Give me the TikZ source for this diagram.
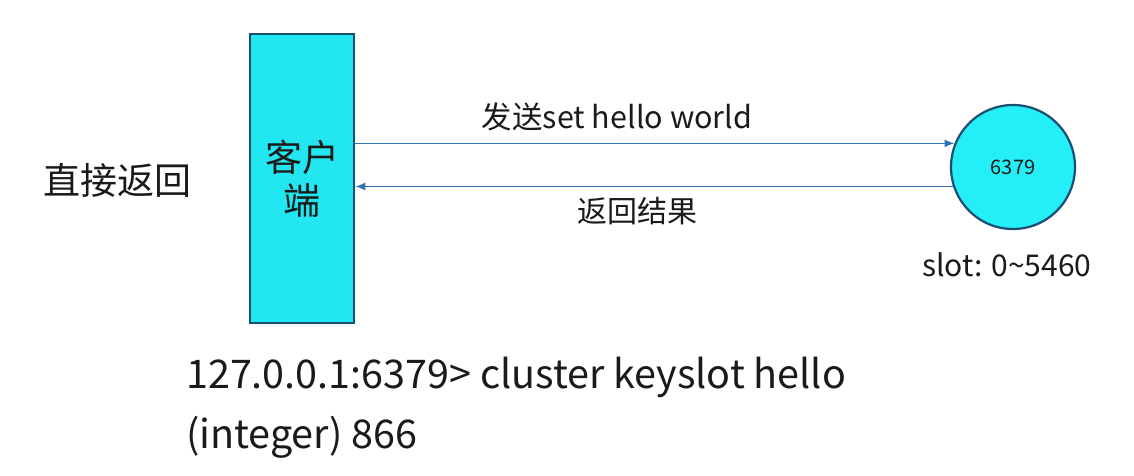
\documentclass[tikz,border=0pt]{standalone}
\usepackage{fontspec}
\setmainfont{Noto Sans CJK SC}
\usetikzlibrary{arrows.meta}
\definecolor{cyanfill}{HTML}{22E6F0}
\definecolor{circfill}{HTML}{24EEF6}
\definecolor{navy}{HTML}{1C4E74}
\definecolor{arrowblue}{HTML}{2E74B5}
\definecolor{txt}{HTML}{1A1A1A}
\tikzset{
  clientbox/.style={draw=navy,line width=2.5pt,fill=cyanfill,minimum width=104pt,minimum height=289pt,inner sep=0pt,align=center,text=txt},
  serverball/.style={circle,draw=navy,line width=2.2pt,fill=circfill,minimum size=124pt,inner sep=0pt,text=txt},
  msg/.style={draw=arrowblue,line width=1.5pt,-{Latex[length=10pt,width=8pt]}},
  lbl/.style={inner sep=0pt,text=txt},
}
\begin{document}
\begin{tikzpicture}[x=1pt,y=-1pt]
\useasboundingbox (0,0) rectangle (1134,475);
\node[clientbox,font=\fontsize{37}{43}\selectfont] (client) at (302,178.5) {客户\\端};
\node[serverball,font=\fontsize{20}{24}\selectfont] (server) at (1013,167) {6379};
\node[lbl,font=\fontsize{37}{44}\selectfont] (direct) at (117,180) {直接返回};
\draw[msg] (server.158 -| client.east) -- (server.158);
\draw[msg] (server.198) -- (server.198 -| client.east);
\node[lbl,font=\fontsize{30.5}{34}\selectfont] (send) at (617,117) {发送set hello world};
\node[lbl,font=\fontsize{30}{34}\selectfont] (ret) at (637,211) {返回结果};
\node[lbl,font=\fontsize{30}{34}\selectfont] (slot) at (1007,265) {slot: 0\char"7E 5460};
\node[lbl,anchor=west,font=\fontsize{39.5}{48}\selectfont] (cmd) at (186,377) {127.0.0.1:6379> cluster keyslot hello};
\node[lbl,anchor=west,font=\fontsize{39.5}{48}\selectfont] (res) at (186,437) {(integer) 866};
\end{tikzpicture}
\end{document}
